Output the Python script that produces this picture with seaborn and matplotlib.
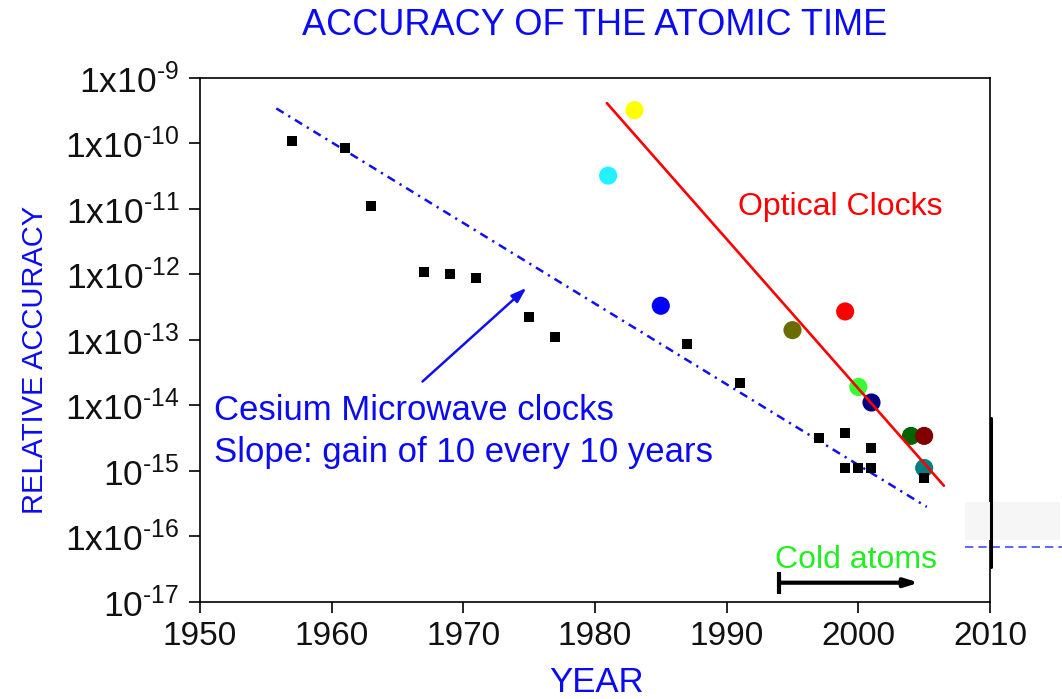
import matplotlib
matplotlib.use("Agg")
import numpy as np
import pandas as pd
import matplotlib.pyplot as plt
import seaborn as sns
from matplotlib.ticker import FixedLocator, LogLocator, NullFormatter, MultipleLocator
from matplotlib.lines import Line2D
from matplotlib.patches import Rectangle

# Cesium microwave clocks (black squares)
cs_years = [1957, 1961, 1963, 1967, 1969, 1971, 1975, 1977, 1987, 1991,
            1997, 1999, 1999, 2000, 2001, 2001, 2005]
cs_acc = [1.1e-10, 8.5e-11, 1.1e-11, 1.1e-12, 1.0e-12, 8.7e-13, 2.2e-13,
          1.1e-13, 8.5e-14, 2.2e-14, 3.2e-15, 3.7e-15, 1.1e-15, 1.1e-15,
          2.2e-15, 1.1e-15, 7.8e-16]

# Optical clocks (coloured dots)
opt_years = [1981, 1983, 1985, 1995, 1999, 2000, 2001, 2004, 2005, 2005]
opt_acc = [3.2e-11, 3.2e-10, 3.3e-13, 1.4e-13, 2.7e-13, 1.9e-14, 1.1e-14,
           3.4e-15, 3.4e-15, 1.1e-15]
opt_colors = ["#22F2FF", "#FFFF00", "#0000FF", "#6B6B00", "#FF0000",
              "#33FF33", "#000080", "#006400", "#800000", "#008080"]

# Trend lines
cs_fit_years = [1955.8, 2005.2]
cs_fit_acc = [3.4e-10, 2.8e-16]
opt_fit_years = [1980.9, 2006.5]
opt_fit_acc = [4.1e-10, 5.9e-16]

# Cold atoms era arrow
cold_years = [1994, 2004.6]
cold_level = 1.95e-17

# Axis ticks
year_ticks = [1950, 1960, 1970, 1980, 1990, 2000, 2010]
acc_ticks = [1e-9, 1e-10, 1e-11, 1e-12, 1e-13, 1e-14, 1e-15, 1e-16, 1e-17]
acc_labels = [r"1x10$^{\text{-9}}$", r"1x10$^{\text{-10}}$", r"1x10$^{\text{-11}}$",
              r"1x10$^{\text{-12}}$", r"1x10$^{\text{-13}}$", r"1x10$^{\text{-14}}$",
              r"10$^{\text{-15}}$", r"1x10$^{\text{-16}}$", r"10$^{\text{-17}}$"]

sns.set_style("white")
plt.rcParams["font.family"] = ["Liberation Sans", "DejaVu Sans"]
plt.rcParams["mathtext.fontset"] = "custom"
plt.rcParams["mathtext.rm"] = "Liberation Sans"
plt.rcParams["mathtext.it"] = "Liberation Sans"
plt.rcParams["mathtext.bf"] = "Liberation Sans"

BLUE = "#0A0AF5"

fig = plt.figure(figsize=(10.62, 6.99), dpi=100)
ax = fig.add_axes([0.1883, 0.1392, 0.7439, 0.7496])

df_opt = pd.DataFrame({"year": opt_years, "acc": opt_acc,
                       "id": [str(i) for i in range(len(opt_years))]})
df_cs = pd.DataFrame({"year": cs_years, "acc": cs_acc})

sns.scatterplot(data=df_opt, x="year", y="acc", hue="id",
                palette=dict(zip(df_opt["id"], opt_colors)), s=170,
                linewidth=0, legend=False, ax=ax, zorder=2)

sns.lineplot(x=opt_fit_years, y=opt_fit_acc, color="#FF0000", lw=1.9,
             ax=ax, zorder=3)
cs_line = sns.lineplot(x=cs_fit_years, y=cs_fit_acc, color="#1010EE", lw=1.8,
                       ax=ax, zorder=3)
cs_line.lines[-1].set_dashes((3.4, 2.2, 0.9, 2.2))

sns.scatterplot(data=df_cs, x="year", y="acc", color="black", marker="s",
                s=55, linewidth=0, ax=ax, zorder=4)

ax.set_yscale("log")
ax.set_xlim(1950, 2010)
ax.set_ylim(1e-17, 1e-9)

ax.xaxis.set_major_locator(FixedLocator(year_ticks))
ax.xaxis.set_minor_locator(MultipleLocator(5))
ax.set_xticklabels([str(y) for y in year_ticks])
ax.yaxis.set_major_locator(FixedLocator(acc_ticks))
ax.set_yticklabels(acc_labels)
ax.yaxis.set_minor_locator(LogLocator(base=10, subs=np.arange(2, 10), numticks=20))
ax.yaxis.set_minor_formatter(NullFormatter())

ax.tick_params(axis="both", which="major", direction="out", length=8,
               width=1.2, color="black", labelcolor="#111111")
ax.tick_params(axis="x", which="major", labelsize=24, pad=6)
ax.tick_params(axis="y", which="major", labelsize=25.5, pad=7)
ax.tick_params(axis="both", which="minor", direction="out", length=4,
               width=1.0, color="black")
ax.tick_params(left=True, bottom=True)
for sp in ax.spines.values():
    sp.set_visible(True)
    sp.set_color("black")
    sp.set_linewidth(1.2)

ax.set_xlabel("")
ax.set_ylabel("")

# Cesium annotation arrow
ax.annotate("", xy=(1974.8, 6.2e-13), xytext=(1966.9, 2.3e-14),
            arrowprops=dict(arrowstyle="-|>,head_length=0.9,head_width=0.3",
                            color="#1010EE", lw=1.8, shrinkA=0, shrinkB=0))

ax.text(1951.1, 8.3e-15, "Cesium Microwave clocks", color=BLUE,
        fontsize=25, ha="left", va="center")
ax.text(1951.1, 1.9e-15, "Slope: gain of 10 every 10 years", color=BLUE,
        fontsize=25, ha="left", va="center")
ax.text(1990.85, 1.05e-11, "Optical Clocks", color="#FF0000",
        fontsize=23, ha="left", va="center")
ax.text(1993.7, 4.3e-17, "Cold atoms", color="#22EE22",
        fontsize=23, ha="left", va="center")

# Cold atoms arrow with start bar
ax.annotate("", xy=(cold_years[1], cold_level), xytext=(cold_years[0], cold_level),
            arrowprops=dict(arrowstyle="-|>,head_length=0.8,head_width=0.25",
                            color="black", lw=3, shrinkA=0, shrinkB=0))
ax.plot([cold_years[0], cold_years[0]], [cold_level * 1.45, cold_level / 1.5],
        color="black", lw=3, solid_capstyle="butt")

fig.text(0.560, 0.964, "ACCURACY OF THE ATOMIC TIME", color=BLUE,
         fontsize=26, ha="center", va="center")
fig.text(0.562, 0.023, "YEAR", color=BLUE, fontsize=25,
         ha="center", va="center")
fig.text(0.033, 0.485, "RELATIVE ACCURACY", color=BLUE, fontsize=21,
         ha="center", va="center", rotation=90)

# Leftover marks along the right edge
fig.add_artist(Rectangle((965 / 1062, 1 - 540 / 699), 95 / 1062, 38 / 699,
                         transform=fig.transFigure, facecolor="#F6F6F6",
                         edgecolor="none"))
fig.add_artist(Line2D([965 / 1062, 1.0], [1 - 547 / 699, 1 - 547 / 699],
                      transform=fig.transFigure, color="#4050F0", lw=1.2,
                      dashes=(5, 3)))
fig.add_artist(Line2D([991 / 1062, 991 / 1062], [1 - 418 / 699, 1 - 567 / 699],
                      transform=fig.transFigure, color="black", lw=2.2))

fig.savefig("out.png", dpi=100)
